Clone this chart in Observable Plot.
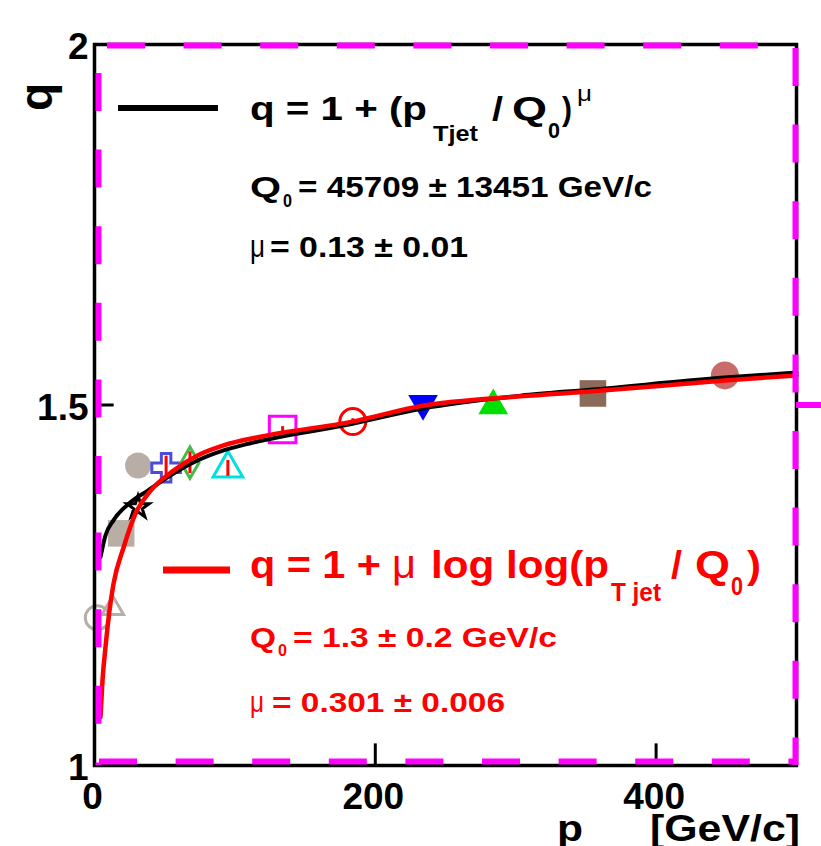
<!DOCTYPE html>
<html><head><meta charset="utf-8">
<script src="https://cdn.jsdelivr.net/npm/d3@7"></script>
<script src="https://cdn.jsdelivr.net/npm/@observablehq/plot@0.6"></script>
<style>body{margin:0;background:#fff} svg{display:block}</style>
</head><body><div id="chart"></div>
<script>
// ---- data ----
const series = ["A","B","C","D","E","F","G","H","I","J","K","L","M","N"];
const pT     = [2, 13, 19, 31, 31, 51, 68, 95, 134, 184, 234, 284, 355, 449];
const qVal   = [1.205, 1.218, 1.322, 1.358, 1.416, 1.413, 1.420, 1.412, 1.466, 1.477, 1.502, 1.499, 1.516, 1.541];
const qErr   = [0, 0, 0, 0, 0, 0.016, 0.015, 0.011, 0.004, 0.004, 0, 0, 0, 0];

// fit curves
const powX = [4.3, 7.8, 13.5, 25.6, 37.7, 56.3, 73.4, 91.9, 111.1, 183.8, 233.6, 303.4, 354.7, 448.7, 500];
const powQ = [1.289, 1.319, 1.340, 1.365, 1.381, 1.405, 1.423, 1.437, 1.447, 1.474, 1.495, 1.513, 1.5215, 1.538, 1.545];
const llX  = [4.27, 5.7, 7.83, 10.68, 13.53, 20.66, 29.2, 39.9, 56.3, 73.4, 91.9, 118.2, 183.8, 233.6, 303.4, 354.7, 448.7, 500];
const llQ  = [1.067, 1.118, 1.164, 1.215, 1.252, 1.302, 1.3495, 1.381, 1.409, 1.430, 1.444, 1.456, 1.477, 1.499, 1.512, 1.519, 1.534, 1.541];

const xTicks = [0, 200, 400];
const xTickLabels = ["0", "200", "400"];
const yTicks = [1, 1.5, 2];
const yTickLabels = ["1", "1.5", "2"];

// ---- styles per series ----
const style = {
  A: {symbol: "circle",   color: "#b8aea6", filled: false, r: 12},
  B: {symbol: "triangle", color: "#b8aea6", filled: false, r: 8},
  C: {symbol: "square",   color: "#b8aea6", filled: true,  r: 15},
  D: {symbol: "star",     color: "#000000", filled: false, r: 7},
  E: {symbol: "circle",   color: "#b8aea6", filled: true,  r: 13},
  F: {symbol: "cross",    color: "#4b4bdc", filled: false, r: 12},
  G: {symbol: "diamond",  color: "#44bb44", filled: false, r: 9.5},
  H: {symbol: "triangle", color: "#00e0e0", filled: false, r: 11},
  I: {symbol: "square",   color: "#ff00ff", filled: false, r: 15},
  J: {symbol: "circle",   color: "#ff0000", filled: false, r: 13},
  K: {symbol: "triangle", color: "#0000ff", filled: true,  r: 11, rotate: 180},
  L: {symbol: "triangle", color: "#00e000", filled: true,  r: 11},
  M: {symbol: "square",   color: "#8b6a5a", filled: true,  r: 15},
  N: {symbol: "circle",   color: "#c96b6b", filled: true,  r: 14}
};

const pts = series.map((s, i) => ({s, x: pT[i], q: qVal[i], e: qErr[i]}));
const errs = pts.filter(d => d.e > 0);
const pow = powX.map((x, i) => ({x, q: powQ[i]}));
const ll = llX.map((x, i) => ({x, q: llQ[i]}));

const dotMarks = pts.map(d => {
  const st = style[d.s];
  return Plot.dot([d], {
    x: "x", y: "q", symbol: st.symbol, r: st.r, rotate: st.rotate || 0,
    fill: st.filled ? st.color : "none",
    stroke: st.filled ? "none" : st.color,
    strokeWidth: 3
  });
});

const MAG = "#ff00ff";
const dash = "38,38.6";

const chart = Plot.plot({
  width: 821, height: 846,
  marginLeft: 94, marginRight: 25, marginTop: 44, marginBottom: 81,
  x: {domain: [0, 500], axis: null},
  y: {domain: [1, 2], axis: null},
  style: {fontFamily: "'Liberation Sans', Arial, Helvetica, sans-serif", background: "white", overflow: "visible"},
  marks: [
    ...dotMarks,
    Plot.ruleX(errs, {x: "x", y1: d => d.q - d.e, y2: d => d.q + d.e, stroke: "#ff0000", strokeWidth: 3}),
    Plot.line(pow, {x: "x", y: "q", stroke: "#000", strokeWidth: 4, curve: "monotone-x"}),
    Plot.line(ll, {x: "x", y: "q", stroke: "#ff0000", strokeWidth: 4.5, curve: "monotone-x"}),
    // frame
    Plot.frame({stroke: "#000", strokeWidth: 3.5}),
    // inner ticks
    Plot.ruleX([200, 400], {x: d => d, y1: 1, y2: 1.03, stroke: "#000", strokeWidth: 3}),
    Plot.ruleY([1.5], {y: d => d, x1: 0, x2: 14, stroke: "#000", strokeWidth: 3}),
    // magenta dashed frame
    Plot.ruleY([2], {y: d => d, x1: 0, x2: 500, stroke: MAG, strokeWidth: 6, strokeDasharray: dash, strokeDashoffset: 63.6, dy: 1}),
    Plot.ruleY([1], {y: d => d, x1: 0, x2: 500, stroke: MAG, strokeWidth: 6, strokeDasharray: dash, strokeDashoffset: 71.6, dy: -4}),
    Plot.ruleX([0], {x: d => d, y1: 2, y2: 1, stroke: MAG, strokeWidth: 6, strokeDasharray: dash, strokeDashoffset: 47.6, dx: 4}),
    Plot.ruleX([500], {x: d => d, y1: 2, y2: 1, stroke: MAG, strokeWidth: 6, strokeDasharray: dash, strokeDashoffset: 72.6, dx: -1}),
    Plot.ruleY([1.5], {y: d => d, x1: 500, x2: 518, stroke: MAG, strokeWidth: 6}),
    // tick labels
    Plot.text(yTicks, {x: 0, y: d => d, text: (d, i) => yTickLabels[i], textAnchor: "end", dx: -6, dy: 3, fontSize: 37, fontWeight: "bold", fill: "#000"}),
    Plot.text(xTicks, {x: d => d, y: 1, text: (d, i) => xTickLabels[i], dx: -2, dy: 32, fontSize: 37, fontWeight: "bold", fill: "#000"})
  ]
});
document.getElementById("chart").appendChild(chart);

// ---- legend & axis titles ----
const svg = d3.select(chart);
const g = svg.append("g")
  .attr("font-family", "'Liberation Sans', Arial, Helvetica, sans-serif")
  .attr("font-weight", "bold")
  .attr("text-anchor", "start");
function put(t, x, y, size, color, len, weight) {
  const el = g.append("text").attr("x", x).attr("y", y)
    .attr("font-size", size).attr("fill", color).text(t);
  if (len) el.attr("textLength", len).attr("lengthAdjust", "spacingAndGlyphs");
  if (weight) el.attr("font-weight", weight);
  return el;
}
// y title
g.append("text").attr("transform", "translate(52,97) rotate(-90)")
  .attr("text-anchor", "middle").attr("font-size", 46).attr("fill", "#000").text("q");
// x title (cut at the bottom, as in the reference)
put("p", 557, 841, 36, "#000", 26);
put("T", 586, 868, 24, "#000");
put("[GeV/c]", 650, 841, 36, "#000", 150);

// black legend
g.append("line").attr("x1", 118).attr("x2", 218).attr("y1", 108).attr("y2", 108)
  .attr("stroke", "#000").attr("stroke-width", 6);
put("q = 1 + (p", 250, 120, 33, "#000", 177);
put("Tjet", 433, 141, 22, "#000", 45);
put("/", 492, 120, 33, "#000", 11);
put("Q", 512, 120, 33, "#000", 35);
put("0", 548, 138, 22, "#000", 12);
put(")", 562, 120, 33, "#000", 10);
put("μ", 577, 101, 22, "#000", 15, "normal");

put("Q", 250, 197, 30, "#000", 31);
put("0", 283, 207, 18, "#000", 9);
put("= 45709 ± 13451 GeV/c", 298, 197, 30, "#000", 354);
put("μ", 250, 257, 32, "#000", 15, "normal");
put("= 0.13 ± 0.01", 270, 257, 30, "#000", 198);

// red legend
g.append("line").attr("x1", 163).attr("x2", 230).attr("y1", 570).attr("y2", 570)
  .attr("stroke", "#ff0000").attr("stroke-width", 7);
put("q = 1 +", 250, 578, 38, "#ff0000", 131);
put("μ", 392, 578, 40, "#ff0000", 24, "normal");
put("log log(p", 431, 578, 38, "#ff0000", 178);
put("T jet", 611, 601, 25, "#ff0000", 50);
put("/", 671, 578, 38, "#ff0000", 11);
put("Q", 695, 578, 38, "#ff0000", 35);
put("0", 731, 595, 25, "#ff0000", 12);
put(")", 747, 578, 38, "#ff0000", 14);

put("Q", 250, 647, 28, "#ff0000", 26);
put("0", 278, 656, 17, "#ff0000", 9);
put("= 1.3 ± 0.2 GeV/c", 293, 647, 28, "#ff0000", 264);
put("μ", 250, 712, 30, "#ff0000", 14, "normal");
put("= 0.301 ± 0.006", 272, 712, 28, "#ff0000", 233);
</script>
</body></html>
